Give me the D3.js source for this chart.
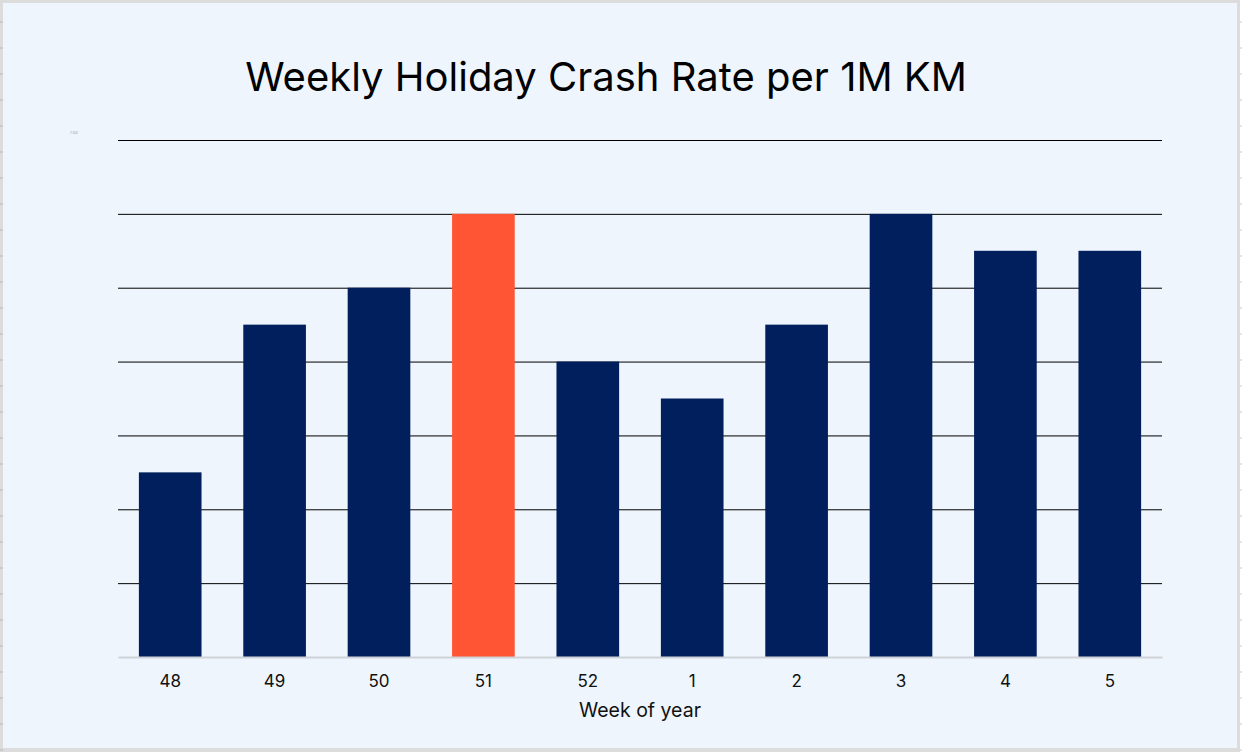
<!DOCTYPE html>
<html>
<head>
<meta charset="utf-8">
<script src="https://cdn.jsdelivr.net/npm/d3@7"></script>
<style>
  html, body { margin: 0; padding: 0; background: #ffffff; }
  svg { display: block; }
</style>
</head>
<body>
<div id="chart"></div>
<script>
// Data
var weeks = ["48", "49", "50", "51", "52", "1", "2", "3", "4", "5"];
var crashRates = [2.5, 4.5, 5, 6, 4, 3.5, 4.5, 6, 5.5, 5.5];
var highlightWeek = "51";
var yTicks = [0, 1, 2, 3, 4, 5, 6, 7];

var W = 1242, H = 752;
var margin = {top: 140, right: 80, bottom: 95, left: 118},
    width = W - margin.left - margin.right,
    height = H - margin.top - margin.bottom;

var root = d3.select("#chart")
    .append("svg")
    .attr("width", W)
    .attr("height", H);

// Frame (spreadsheet-like border)
root.append("rect")
    .attr("x", 0).attr("y", 0)
    .attr("width", 1240).attr("height", 752)
    .attr("fill", "#dcdcdc");
root.append("rect")
    .attr("x", 3).attr("y", 3)
    .attr("width", 1234).attr("height", 745)
    .attr("fill", "#eef5fc");
// little ticks on the left and right edges
d3.range(22, 752, 26).forEach(function(ty) {
    root.append("line")
        .attr("x1", 0).attr("x2", 3)
        .attr("y1", ty).attr("y2", ty)
        .attr("stroke", "#b8b8b8");
    root.append("line")
        .attr("x1", 1240).attr("x2", 1242)
        .attr("y1", ty).attr("y2", ty)
        .attr("stroke", "#c8c8c8");
});

var svg = root.append("g")
    .attr("transform", "translate(" + margin.left + "," + margin.top + ")");

// X scale
var x = d3.scaleBand()
    .domain(weeks)
    .range([0, width])
    .paddingInner(0.4)
    .paddingOuter(0.2);

// Y scale
var y = d3.scaleLinear()
    .domain([0, 7])
    .range([height, 0]);

// Gridlines
svg.append("g")
    .selectAll("line")
    .data(yTicks.filter(d => d > 0))
    .enter()
    .append("line")
    .attr("x1", 0)
    .attr("x2", width)
    .attr("y1", d => y(d) + 0.5)
    .attr("y2", d => y(d) + 0.5)
    .attr("stroke", "#000000")
    .attr("stroke-width", 1);

// faint top tick label (barely visible in the original)
svg.append("text")
    .attr("x", -48)
    .attr("y", y(7) - 6)
    .attr("font-family", "Inter, sans-serif")
    .attr("font-size", "4px")
    .attr("fill", "#9aa4b0")
    .text("7.00");

// Bars
svg.append("g")
    .selectAll("rect")
    .data(weeks.map((w, i) => ({week: w, value: crashRates[i]})))
    .enter()
    .append("rect")
    .attr("x", d => x(d.week))
    .attr("y", d => y(d.value))
    .attr("width", x.bandwidth())
    .attr("height", d => height - y(d.value))
    .attr("fill", d => d.week === highlightWeek ? "#ff5534" : "#001f5c");

// X Axis
var xAxis = svg.append("g")
    .attr("transform", "translate(0," + height + ")")
    .call(d3.axisBottom(x).tickSize(0).tickPadding(18));
xAxis.select(".domain")
    .attr("stroke", "#cfd3d8")
    .attr("stroke-width", 2);
xAxis.selectAll("text")
    .attr("font-family", "Inter, sans-serif")
    .attr("font-size", "17px")
    .attr("fill", "#111111");

// Title
root.append("text")
    .attr("x", 606)
    .attr("y", 91)
    .attr("text-anchor", "middle")
    .attr("font-family", "Inter, sans-serif")
    .style("font-size", "40px")
    .attr("fill", "#000000")
    .text("Weekly Holiday Crash Rate per 1M KM");

// X-axis label
svg.append("text")
    .attr("x", width / 2)
    .attr("y", height + 60)
    .attr("text-anchor", "middle")
    .attr("font-family", "Inter, sans-serif")
    .style("font-size", "19.5px")
    .attr("fill", "#111111")
    .text("Week of year");
</script>
</body>
</html>
